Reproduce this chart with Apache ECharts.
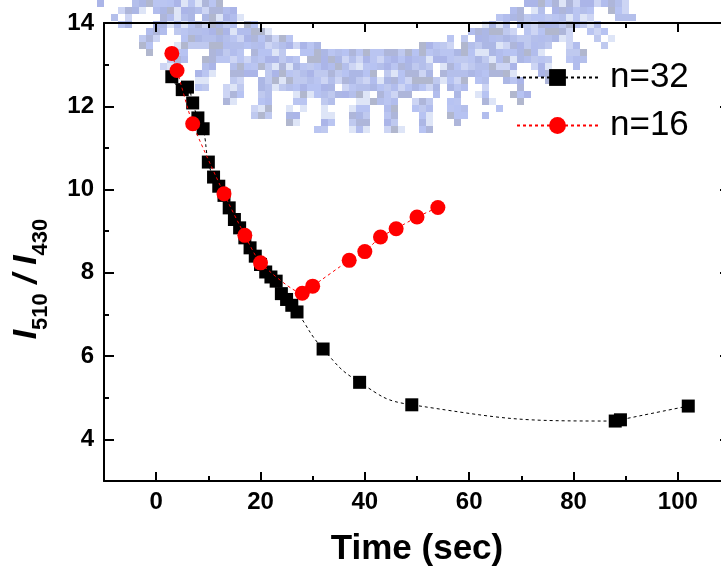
<!DOCTYPE html>
<html>
<head>
<meta charset="utf-8">
<script src="https://cdn.jsdelivr.net/npm/echarts@6/dist/echarts.min.js"></script>
<style>
  html, body { margin: 0; padding: 0; background: #fff; }
  #chart { width: 721px; height: 569px; }
</style>
</head>
<body>
<div id="chart"></div>
<script>
// Ratio I510/I430 over time for the two samples
const timeN32 = [3, 5, 6, 7, 8, 9, 10, 11, 12, 13, 14, 15, 16, 17, 18, 19, 20, 21, 22, 23, 24, 25, 26, 27, 32, 39, 49, 88, 89, 102];
const ratioN32 = [12.71, 12.40, 12.46, 12.08, 11.72, 11.46, 10.66, 10.30, 10.08, 9.86, 9.56, 9.28, 9.08, 8.84, 8.60, 8.40, 8.20, 8.02, 7.90, 7.80, 7.50, 7.36, 7.22, 7.06, 6.17, 5.37, 4.83, 4.44, 4.47, 4.80];

const timeN16 = [3, 4, 7, 13, 17, 20, 28, 30, 37, 40, 43, 46, 50, 54];
const ratioN16 = [13.27, 12.86, 11.58, 9.90, 8.90, 8.24, 7.51, 7.68, 8.30, 8.51, 8.86, 9.06, 9.34, 9.57];

const seriesNames = ['n=32', 'n=16'];

// Axis ranges and tick positions
const xRange = [-10, 110];
const xMajorTicks = [0, 20, 40, 60, 80, 100];
const xMinorTicks = [-10, 10, 30, 50, 70, 90, 110];
const yRange = [3, 14];
const yMajorTicks = [4, 6, 8, 10, 12, 14];
const yMinorTicks = [5, 7, 9, 11, 13];

const FONT = '"Liberation Sans", Arial, Helvetica, sans-serif';

const chart = echarts.init(document.getElementById('chart'), null, { renderer: 'canvas' });

function pairs(xs, ys) { return xs.map((x, i) => [x, ys[i]]); }

const axisLineStyle = { color: '#000', width: 2 };

function xAxisDef(position, ticks, len, withLine, withLabels) {
  return {
    type: 'value', position: position, min: xRange[0], max: xRange[1], interval: 10,
    axisLine: { show: withLine, onZero: false, lineStyle: axisLineStyle },
    axisTick: { show: true, inside: true, length: len, customValues: ticks, lineStyle: { color: '#000', width: 2 } },
    axisLabel: withLabels ? {
      show: true, customValues: xMajorTicks, margin: 9,
      fontFamily: FONT, fontWeight: 'bold', fontSize: 24, color: '#000'
    } : { show: false },
    splitLine: { show: false }
  };
}

function yAxisDef(position, ticks, len, withLine, withLabels) {
  return {
    type: 'value', position: position, min: yRange[0], max: yRange[1], interval: 1,
    axisLine: { show: withLine, onZero: false, lineStyle: axisLineStyle },
    axisTick: { show: true, inside: true, length: len, customValues: ticks, lineStyle: { color: '#000', width: 2 } },
    axisLabel: withLabels ? {
      show: true, customValues: yMajorTicks, margin: 10,
      fontFamily: FONT, fontWeight: 'bold', fontSize: 24, color: '#000'
    } : { show: false },
    splitLine: { show: false }
  };
}

const xMain = xAxisDef('bottom', xMajorTicks, 9, true, true);
xMain.name = 'Time (sec)';
xMain.nameLocation = 'middle';
xMain.nameGap = 51;
xMain.nameTextStyle = { fontFamily: FONT, fontWeight: 'bold', fontSize: 35, color: '#000' };

// Faded, low-resolution emblem ring (geared edge) sitting behind the plot
const ringCx = 372, ringCy = -212;
const cell = 7;
const emblemPalette = ['#a4b2ea', '#9eaae0', '#aab8f0', '#a7b4e8', '#b4c0ec', '#a0a9d4', '#a3aac6', '#c4cef2', '#9ca8e4', '#aebbee', '#d8e0f6'];
function cellHash(i, j) {
  let h = (Math.imul(i, 374761393) + Math.imul(j, 668265263)) | 0;
  h = Math.imul(h ^ (h >>> 13), 1274126177);
  h ^= h >>> 16;
  return h >>> 0;
}
const emblem = [];
for (let j = 0; j * cell < 150; j++) {
  for (let i = 0; 90 + i * cell < 670; i++) {
    const px = 90 + i * cell, py = j * cell;
    const dx = px + cell / 2 - ringCx, dy = py + cell / 2 - ringCy;
    const r = Math.sqrt(dx * dx + dy * dy);
    const ang = Math.atan2(dy, dx);
    const inBand = r >= 262 && r <= 314 && ang >= 0.62 && ang <= 2.50;
    const phase = (ang - 0.70) - Math.floor((ang - 0.70) / 0.098) * 0.098;
    const inTooth = r > 314 && r <= 348 && ang >= 0.70 && ang <= 2.48 && phase < 0.05;
    if (!inBand && !inTooth) continue;
    const h = cellHash(i, j);
    if (h % 17 === 0) continue;
    emblem.push({
      type: 'rect', z: -10, silent: true,
      shape: { x: px, y: py, width: cell, height: cell },
      style: { fill: emblemPalette[h % emblemPalette.length], opacity: 0.85 }
    });
  }
}

const option = {
  animation: false,
  backgroundColor: '#fff',
  grid: { left: 104, top: 23, right: -9, bottom: 88, containLabel: false, outerBoundsMode: 'none' },
  xAxis: [
    xMain,
    xAxisDef('bottom', xMinorTicks, 5, false, false),
    xAxisDef('top', xMajorTicks, 9, true, false),
    xAxisDef('top', xMinorTicks, 5, false, false)
  ],
  yAxis: [
    yAxisDef('left', yMajorTicks, 10, true, true),
    yAxisDef('left', yMinorTicks, 5, false, false),
    yAxisDef('right', yMajorTicks, 10, true, false),
    yAxisDef('right', yMinorTicks, 5, false, false)
  ],
  legend: {
    orient: 'vertical', left: 516, top: 60, padding: 0,
    itemWidth: 81, itemHeight: 21, itemGap: 13,
    data: seriesNames,
    textStyle: { fontFamily: FONT, fontSize: 35, color: '#000', lineHeight: 32, padding: [0, 0, 0, 7] }
  },
  graphic: emblem.concat([{
    type: 'text', x: 31, y: 279, rotation: Math.PI / 2, z: 10,
    style: {
      text: '{i|I}{s|510}{i| / I}{s|430}',
      align: 'center', verticalAlign: 'middle',
      rich: {
        i: { fontFamily: FONT, fontWeight: 'bold', fontStyle: 'italic', fontSize: 34, fill: '#000', verticalAlign: 'bottom', padding: [0, 0, 8, 0] },
        s: { fontFamily: FONT, fontWeight: 'bold', fontSize: 22, fill: '#000', verticalAlign: 'bottom' }
      }
    }
  }]),
  series: [
    {
      name: seriesNames[0], type: 'line', xAxisIndex: 0, yAxisIndex: 0,
      data: pairs(timeN32, ratioN32),
      symbol: 'rect', symbolSize: 13,
      smooth: 0.5,
      itemStyle: { color: '#000' },
      lineStyle: { color: '#000', width: 1, type: [3, 3] },
      z: 3
    },
    {
      name: seriesNames[1], type: 'line', xAxisIndex: 0, yAxisIndex: 0,
      data: pairs(timeN16, ratioN16),
      symbol: 'circle', symbolSize: 15,
      smooth: 0.2,
      itemStyle: { color: '#ff0000' },
      lineStyle: { color: '#ff0000', width: 1, type: [3, 3] },
      z: 4
    }
  ]
};

chart.setOption(option);
</script>
</body>
</html>
